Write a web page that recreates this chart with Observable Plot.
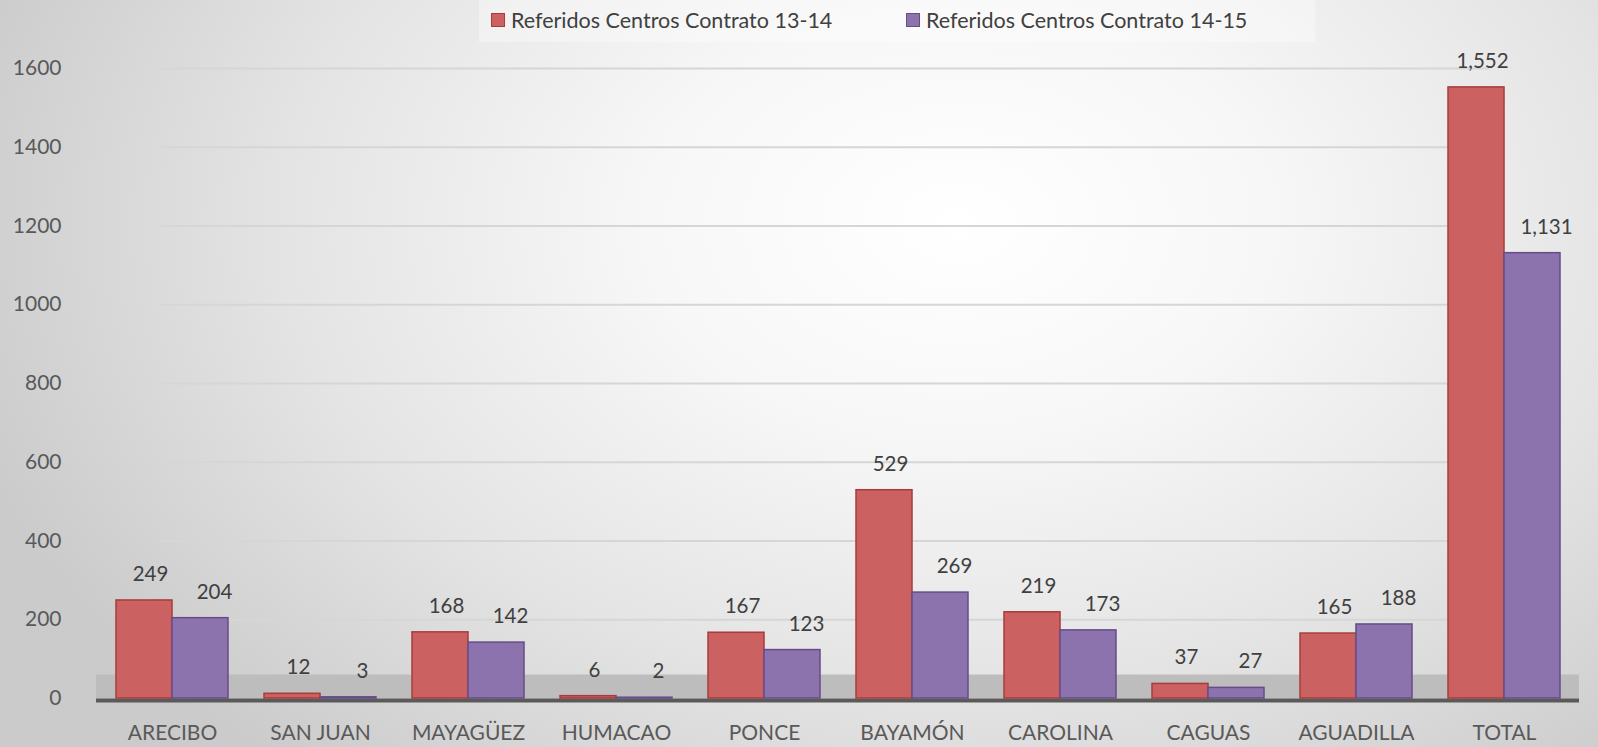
<!DOCTYPE html>
<html>
<head>
<meta charset="utf-8">
<script src="https://cdn.jsdelivr.net/npm/d3@7"></script>
<script src="https://cdn.jsdelivr.net/npm/@observablehq/plot@0.6"></script>
<style>
  html, body { margin: 0; padding: 0; width: 1598px; height: 747px; overflow: hidden; }
  body {
    font-family: Lato, "Open Sans", sans-serif;
    background: radial-gradient(ellipse 65% 95% at 60% 30%, #ffffff 0%, #f7f7f7 30%, #e4e4e4 65%, #cbcbcb 100%);
  }
  #legend { position: relative; height: 44px; }
  #legend .box { position: absolute; left: 479px; top: 0; width: 836px; height: 42px; background: rgba(255,255,255,0.35); }
  #legend .item { position: absolute; top: 7px; display: flex; align-items: center; font-size: 21.5px; color: #404040; white-space: nowrap; }
  #legend .sw { width: 14px; height: 14px; margin-right: 6px; box-sizing: border-box; border: 1.5px solid; }
  #chart svg { display: block; }
</style>
</head>
<body>
<div id="legend"><div class="box"></div></div>
<div id="chart"></div>
<script>
const categories = ["ARECIBO", "SAN JUAN", "MAYAGÜEZ", "HUMACAO", "PONCE", "BAYAMÓN", "CAROLINA", "CAGUAS", "AGUADILLA", "TOTAL"];
const seriesNames = ["Referidos Centros Contrato 13-14", "Referidos Centros Contrato 14-15"];
const values1314 = [249, 12, 168, 6, 167, 529, 219, 37, 165, 1552];
const values1415 = [204, 3, 142, 2, 123, 269, 173, 27, 188, 1131];
const yTicks = [0, 200, 400, 600, 800, 1000, 1200, 1400, 1600];

const colors = ["#cc6161", "#8d73ad"];
const strokes = ["#a83c3c", "#664c88"];

const data1 = categories.map((c, i) => ({category: c, series: seriesNames[0], value: values1314[i]}));
const data2 = categories.map((c, i) => ({category: c, series: seriesNames[1], value: values1415[i]}));

const W = 1598, H = 703, mL = 96, mR = 19;
const pInner = 0.245;
const step = (W - mL - mR) / categories.length;
const bw = step * (1 - pInner);
const half = bw / 2;
const fmt = d3.format(",");

// legend
const legend = document.getElementById("legend");
const lx = [491, 906];
seriesNames.forEach((s, i) => {
  const it = document.createElement("div");
  it.className = "item";
  it.style.left = lx[i] + "px";
  const sw = document.createElement("span");
  sw.className = "sw";
  sw.style.background = colors[i];
  sw.style.borderColor = strokes[i];
  const t = document.createElement("span");
  t.textContent = s;
  it.appendChild(sw); it.appendChild(t);
  legend.appendChild(it);
});

const chart = Plot.plot({
  width: W,
  height: H,
  marginLeft: mL,
  marginRight: mR,
  marginTop: 24,
  marginBottom: 49,
  style: { background: "transparent", fontFamily: "Lato, 'Open Sans', sans-serif", fontSize: "21px", color: "#595959" },
  x: { domain: categories, paddingInner: pInner, paddingOuter: pInner / 2, label: null, tickSize: 0, tickPadding: 27 },
  y: { domain: [0, 1600], ticks: yTicks, label: null, tickSize: 0, tickPadding: 35, tickFormat: d3.format("d") },
  marks: [
    Plot.gridY(yTicks.filter(d => d > 0), { stroke: "#d6d6d6", strokeOpacity: 1, strokeWidth: 2, insetLeft: 65, insetRight: 90 }),
    Plot.ruleY([0], { stroke: "#bdbdbd", strokeWidth: 24, dy: -12 }),
    Plot.ruleY([0], { stroke: "#5a5a5a", strokeWidth: 4, dy: 2 }),
    Plot.barY(data1, { x: "category", y: "value", fill: colors[0], stroke: strokes[0], strokeWidth: 1.5, insetRight: half }),
    Plot.barY(data2, { x: "category", y: "value", fill: colors[1], stroke: strokes[1], strokeWidth: 1.5, insetLeft: half }),
    Plot.text(data1, { x: "category", y: "value", text: d => fmt(d.value), dx: -half / 2 + 6, dy: -26, fill: "#404040", fontSize: 20.5 }),
    Plot.text(data2, { x: "category", y: "value", text: d => fmt(d.value), dx: half / 2 + 14, dy: -26, fill: "#404040", fontSize: 20.5 })
  ]
});
document.getElementById("chart").appendChild(chart);
</script>
</body>
</html>
